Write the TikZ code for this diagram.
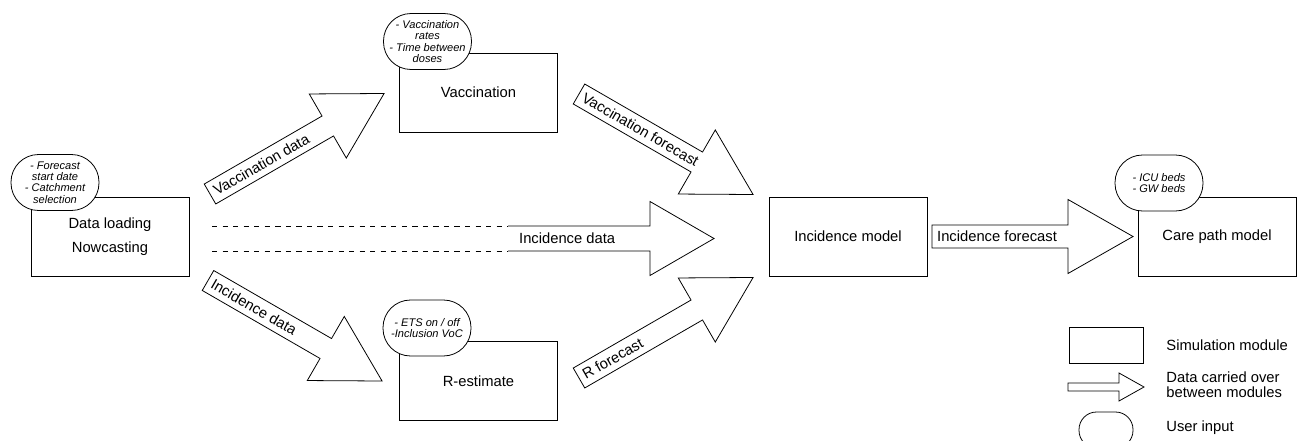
\documentclass[tikz,border=0pt]{standalone}
\usepackage{fontspec}
\setmainfont{Liberation Sans}
\usetikzlibrary{positioning}

\begin{document}
\begin{tikzpicture}[
    x=0.02cm, y=0.02cm,
    line width=0.45pt,
    module/.style={rectangle, draw, fill=white,
                   minimum width=3.16cm, minimum height=1.58cm,
                   font=\fontsize{8.4}{10}\selectfont, align=center, inner sep=0pt},
    userinput/.style={rectangle, draw, fill=white, rounded corners=0.55cm,
                   minimum width=1.76cm, minimum height=1.12cm, inner sep=0pt,
                   font=\fontsize{6.3}{6.5}\selectfont\itshape, align=center},
    arrtext/.style={font=\fontsize{8.4}{10}\selectfont, inner sep=1pt},
    legtext/.style={font=\fontsize{8.4}{8.6}\selectfont, align=left,
                   anchor=west, inner sep=0pt},
    pics/blockarrow/.style n args={2}{code={
        \draw[fill=white] (0,-11.5) -- (0,11.5) -- (#1-65,11.5) -- (#1-65,37)
              -- (#1,0) -- (#1-65,-37) -- (#1-65,-11.5) -- cycle;
        \node[arrtext, transform shape, anchor=west] (-text) at (3,0) {#2};
    }}
]
\path[use as bounding box, clip] (0,0) rectangle (1304,440);

% simulation modules
\node[module] (load) at (110,203.5) {Data loading\\[4pt]Nowcasting};
\node[module] (vacc) at (478.5,347.5) {Vaccination};
\node[module] (rest) at (478.5,59) {R-estimate};
\node[module] (inc) at (848,203.5) {Incidence model};
\node[module] (care) at (1217,203.5) {Care path model};

% user inputs
\node[userinput] (loadin) at (55,257.5) {- Forecast\\start date\\- Catchment\\selection};
\node[userinput] (vaccin) at (427.5,398.5) {- Vaccination\\rates\\- Time between\\doses};
\node[userinput] (restin) at (427,112) {- ETS on / off\\-Inclusion VoC};
\node[userinput] (carein) at (1159,257) {- ICU beds\\- GW beds};

% data carried over
\pic[rotate=30] (vdata) at (210,246) {blockarrow={201}{Vaccination data}};
\pic[rotate=-30] (idata) at (208,159.5) {blockarrow={201}{Incidence data}};
\pic[rotate=-30] (vfc) at (579,346) {blockarrow={201}{Vaccination forecast}};
\pic[rotate=30] (rfc) at (579,62) {blockarrow={201}{R forecast}};
\pic (ifc) at (932,203.5) {blockarrow={201}{Incidence forecast}};

\begin{scope}[shift={(212,201.5)}]
  \draw[dashed] (0,12.5) -- (296,12.5);
  \draw[dashed] (0,-12.5) -- (296,-12.5);
  \draw (296,12.5) -- (438,12.5) -- (438,37) -- (502,0) -- (438,-37)
        -- (438,-12.5) -- (296,-12.5);
  \node[arrtext, anchor=west] (inctext) at (305,0) {Incidence data};
\end{scope}

% legend
\node[rectangle, draw, minimum width=1.48cm, minimum height=0.72cm] (legmod) at (1106,95) {};
\node[legtext] (legmodtext) at (1166,95) {Simulation module};
\draw (1068,49) -- (1068,57) -- (1119,57) -- (1119,67) -- (1144,53)
      -- (1119,39) -- (1119,49) -- cycle;
\node[legtext] (legarrtext) at (1166,55.5) {Data carried over\\between modules};
\node[rectangle, draw, rounded corners=0.35cm, minimum width=1.08cm,
      minimum height=0.72cm] (legin) at (1106,10) {};
\node[legtext] (legintext) at (1166,12.5) {User input};

\end{tikzpicture}
\end{document}
